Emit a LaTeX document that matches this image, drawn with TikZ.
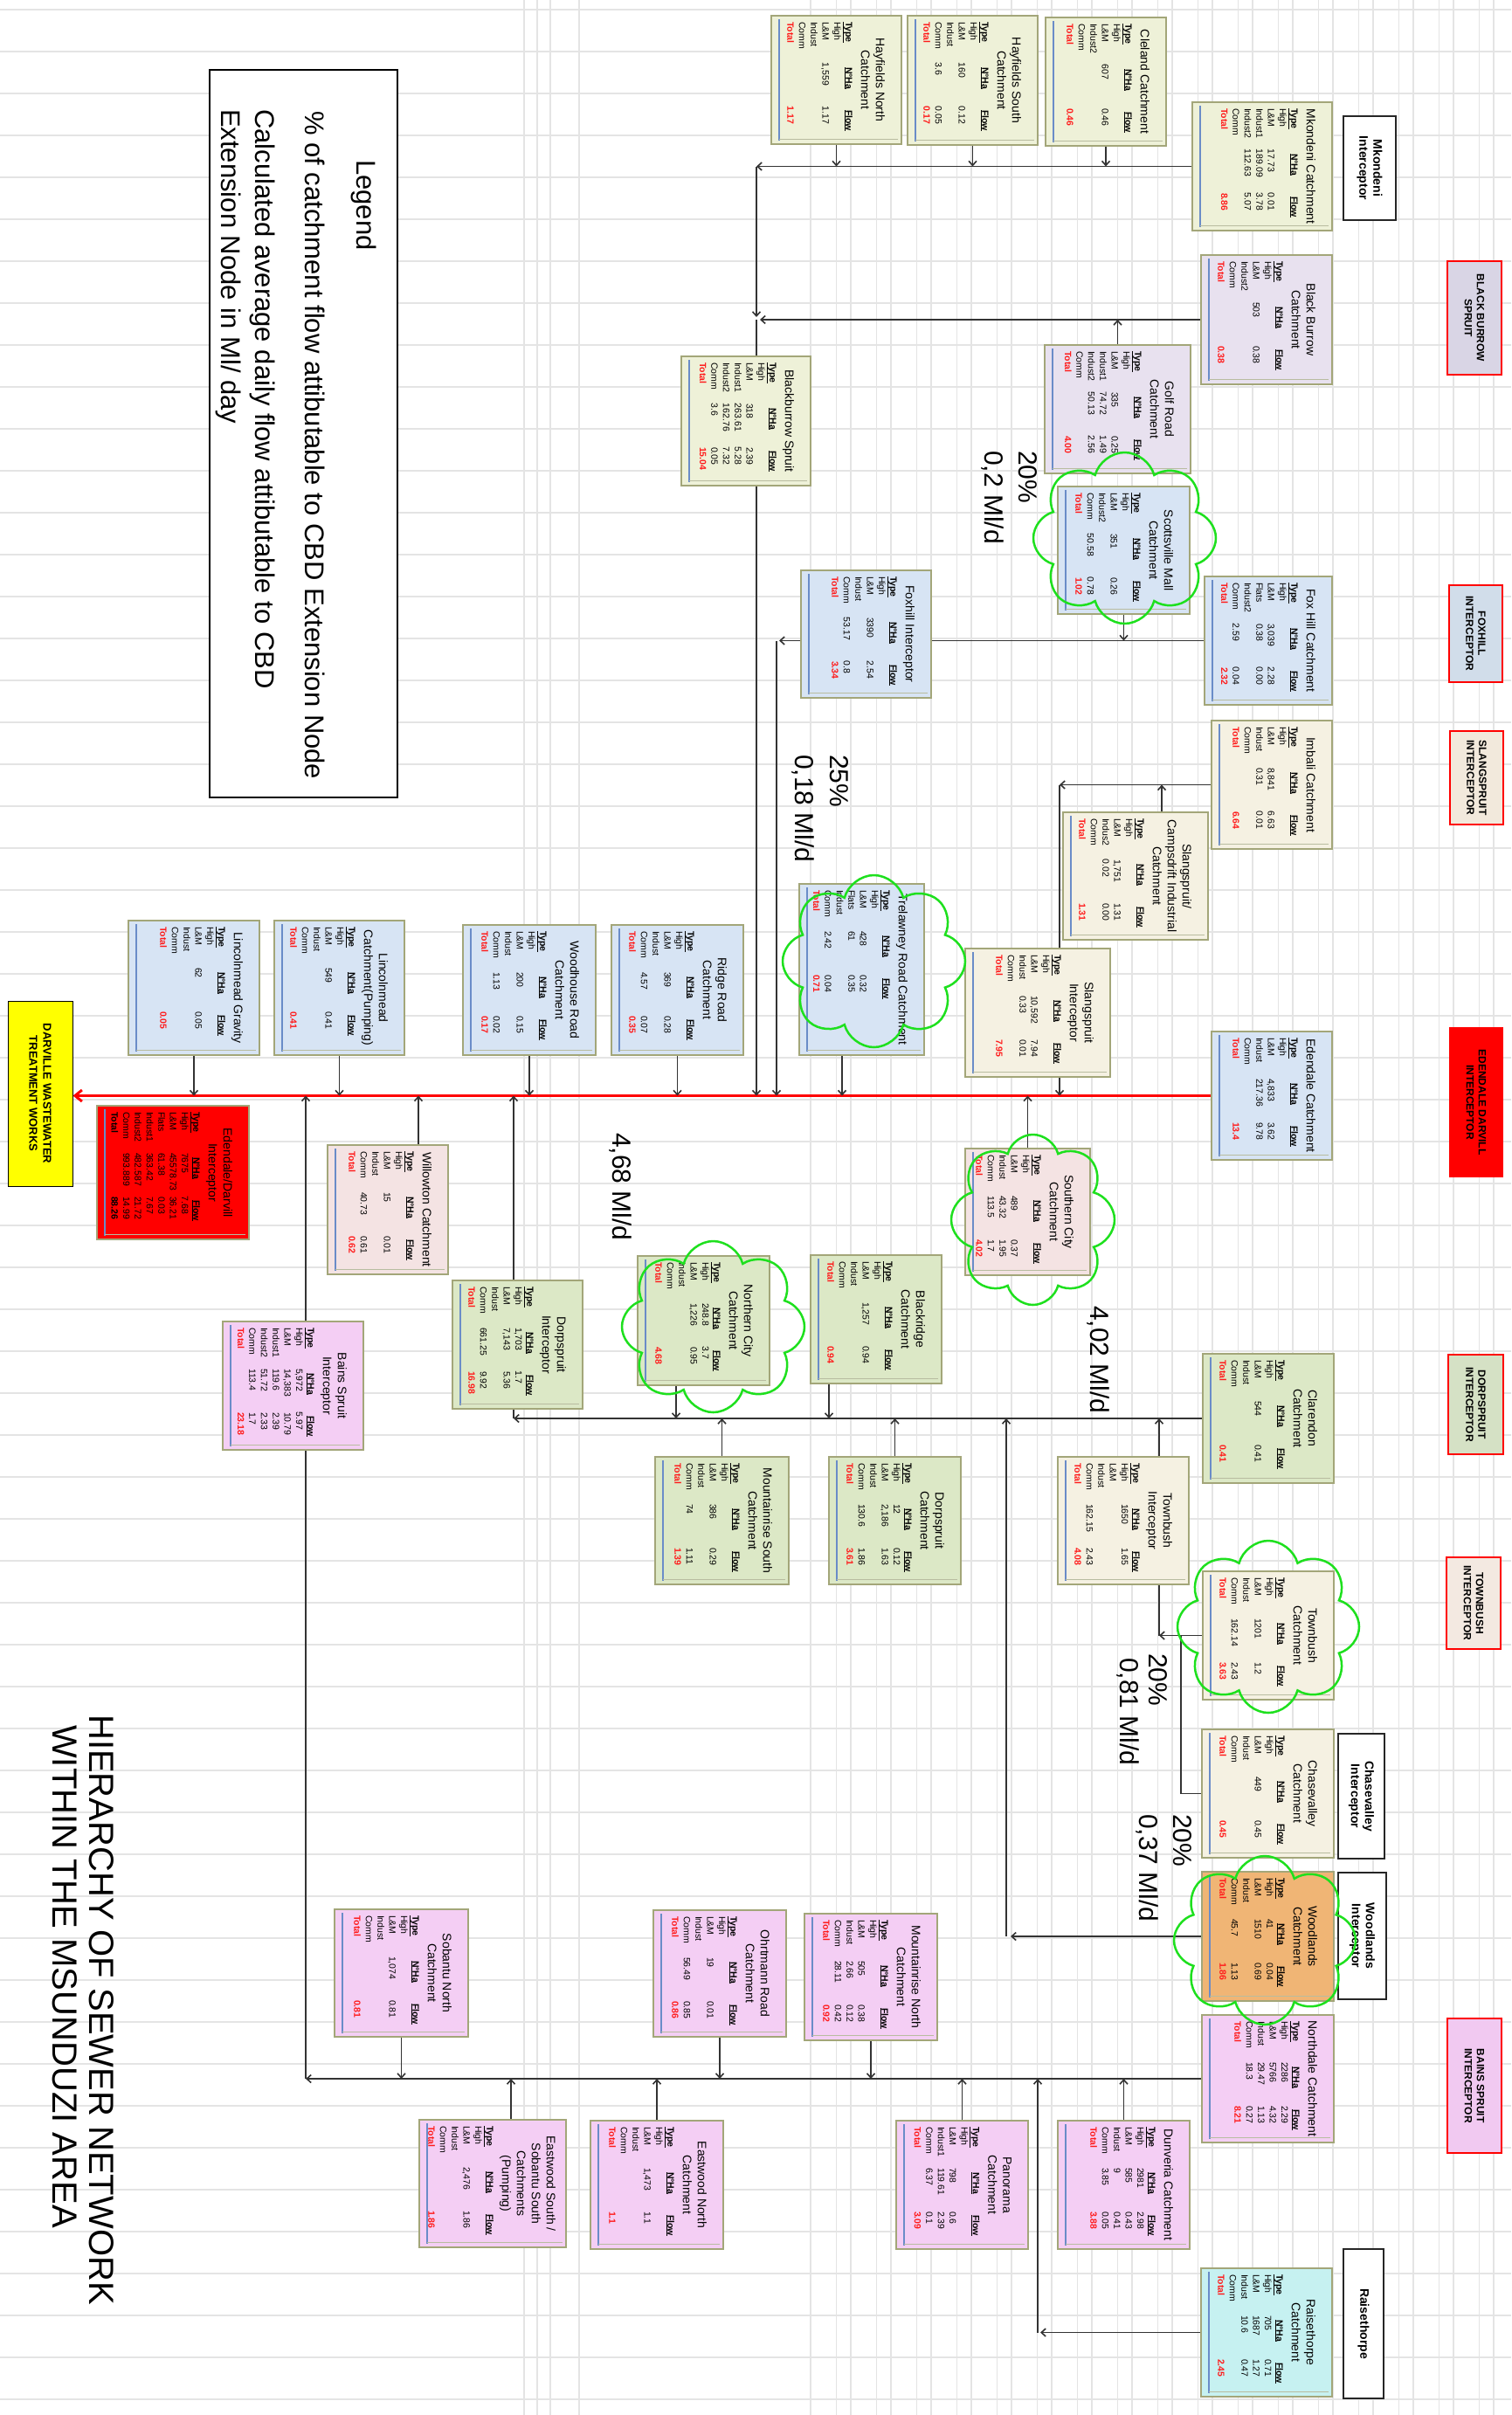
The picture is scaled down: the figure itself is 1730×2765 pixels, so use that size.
\documentclass[tikz,border=0pt]{standalone}
\usepackage{fontspec}
\setmainfont{Liberation Sans}
\usetikzlibrary{arrows.meta,shapes.symbols}
\pgfdeclarelayer{gridlayer}
\pgfdeclarelayer{connlayer}
\pgfsetlayers{gridlayer,connlayer,main}

\definecolor{bord}{HTML}{A3A679}
\definecolor{cyel}{HTML}{EEF1D8}
\definecolor{cgreen}{HTML}{DCE8C6}
\definecolor{clav}{HTML}{E8E1EF}
\definecolor{cblue}{HTML}{D7E4F4}
\definecolor{ccream}{HTML}{F5F1E2}
\definecolor{cpink}{HTML}{F4E3E3}
\definecolor{cmag}{HTML}{F4CEF4}
\definecolor{corange}{HTML}{F0B575}
\definecolor{ccyan}{HTML}{C6F1F1}
\definecolor{cred}{HTML}{FF0000}
\definecolor{totred}{HTML}{FF1A1A}
\definecolor{brule}{HTML}{6A8CC8}
\definecolor{grule}{HTML}{B8BCA0}
\definecolor{cloudg}{HTML}{1EE01E}
\definecolor{lnc}{HTML}{333333}
\definecolor{gridc}{HTML}{E4E4E4}
\definecolor{yelw}{HTML}{FFFF00}
\definecolor{lbb}{HTML}{D9D5E5}
\definecolor{lfx}{HTML}{D1DDEA}
\definecolor{lsl}{HTML}{F2E9DC}
\definecolor{ldp}{HTML}{D5E1C5}
\definecolor{ltb}{HTML}{F3E9E1}
\definecolor{lbs}{HTML}{F1C9F1}

\newcommand\crow[3]{\hspace*{7pt}\makebox[47pt][l]{#1}\makebox[50pt][l]{#2}#3\par}
\newcommand\chdr{\crow{\textbf{\underline{Type}}}{\hspace*{5pt}\textbf{\underline{N°Ha}}}{\hspace*{4pt}\textbf{\underline{Flow}}}}
\newcommand\ctot[1]{\crow{\textcolor{totred}{\textbf{Total}}}{}{\textcolor{totred}{\textbf{#1}}}}
\newcommand\ctotb[1]{\crow{\textbf{Total}}{}{\textbf{#1}}}
\newcommand\catchbox[8]{%
  \node[cbx, fill=#6] (#1) at ({(#2+#4)/2},{(#3+#5)/2})
   {\parbox[c][\dimexpr#4pt-#2pt\relax][t]{\dimexpr#5pt-#3pt\relax}{%
     \vspace*{19pt}%
     {\centering\fontsize{14}{17}\selectfont #7\par}%
     \vspace{4pt}%
     \fontsize{10.5}{13.4}\selectfont\chdr #8}};
  \draw[brule, line width=1.2pt] ({#2+9},{#3+4}) -- ({#2+9},{#5-4});
  \draw[grule, line width=1pt] ({#2+9},{#5-6}) -- ({#4-4},{#5-6});
}
\newcommand\labbox[7]{%
  \node[#6, minimum width={#5pt-#3pt}, minimum height={#4pt-#2pt}] (#1) at ({(#2+#4)/2},{(#3+#5)/2}) {#7};}

\tikzset{
  cbx/.style={draw=bord, line width=1.5pt, rotate=-90, inner sep=0pt, outer sep=0pt},
  redlab/.style={rotate=-90, draw=red, line width=2.5pt, inner sep=1pt, align=center, font=\bfseries\fontsize{12}{14}\selectfont},
  whitelab/.style={rotate=-90, draw=black!85, line width=1.6pt, fill=white, inner sep=1pt, align=center, font=\bfseries\fontsize{14}{16}\selectfont},
  conn/.style={draw=lnc, line width=1.6pt},
  connA/.style={conn, -{Straight Barb[length=5pt,width=9pt]}},
  mainred/.style={draw=red, line width=3pt, -{Straight Barb[length=8pt,width=13pt]}},
  ann/.style={rotate=-90, anchor=base west, inner sep=0pt, font=\fontsize{30}{30}\selectfont},
  legtxt/.style={rotate=-90, anchor=base west, inner sep=0pt, font=\fontsize{31}{31}\selectfont},
  ttl/.style={rotate=-90, anchor=base west, inner sep=0pt, font=\fontsize{40}{40}\selectfont},
  cloudy/.style={cloud, cloud puffs=8, cloud ignores aspect, draw=cloudg, line width=2.5pt, inner sep=0pt},
  gridln/.style={draw=gridc, line width=1.2pt},
}

\begin{document}
\begin{tikzpicture}[x=1pt,y=-1pt]
\useasboundingbox (0,0) rectangle (1730,2765);
\begin{pgfonlayer}{gridlayer}
\fill[white] (0,0) rectangle (1730,2765);
\foreach \k in {0,...,57} \draw[gridln] (0,{11+48*\k}) -- (1730,{11+48*\k});
\foreach \k in {0,...,17} \draw[gridln] ({928+46*\k},0) -- ({928+46*\k},2765);
\foreach \k in {0,...,16} \draw[gridln, line width=0.8pt] ({957+46*\k},0) -- ({957+46*\k},2765);
\foreach \xx in {600,615,630,663} \draw[gridln] (\xx,0) -- (\xx,2765);
\end{pgfonlayer}

% legend and title
\labbox{legend}{240}{80}{455}{913}{rotate=-90, draw=black, line width=1.5pt, fill=white, inner sep=0pt}{}
\node[legtxt] (legT) at (408,183) {Legend};
\node[legtxt] (leg1) at (349,127) {\% of catchment flow attibutable to CBD Extension Node};
\node[legtxt] (leg2) at (292,125) {Calculated average daily flow attibutable to CBD};
\node[legtxt] (leg3) at (253,125) {Extension Node in Ml/ day};
\node[ttl] (title1) at (102,1963) {HIERARCHY OF SEWER NETWORK};
\node[ttl] (title2) at (60,1975) {WITHIN THE MSUNDUZI AREA};

% catchment boxes
\catchbox{hayn}{883}{18}{1032}{165}{cyel}{Hayfields North\\Catchment}{\crow{High}{}{}\crow{L\&M}{1,559}{1.17}\crow{Indust}{}{}\crow{Comm}{}{}\ctot{1.17}}
\catchbox{hays}{1039}{18}{1188}{166}{cyel}{Hayfields South\\Catchment}{\crow{High}{}{}\crow{L\&M}{160}{0.12}\crow{Indust}{}{}\crow{Comm}{3.6}{0.05}\ctot{0.17}}
\catchbox{clel}{1197}{20}{1335}{167}{cyel}{Cleland Catchment}{\crow{High}{}{}\crow{L\&M}{607}{0.46}\crow{Indust2}{}{}\crow{Comm}{}{}\ctot{0.46}}
\catchbox{mkon}{1365}{117}{1525}{264}{cyel}{Mkondeni Catchment}{\crow{High}{}{}\crow{L\&M}{17.73}{0.01}\crow{Indust1}{189.09}{3.78}\crow{Indust2}{112.63}{5.07}\crow{Comm}{}{}\ctot{8.86}}
\catchbox{bbur}{1375}{292}{1525}{440}{clav}{Black Burrow\\Catchment}{\crow{High}{}{}\crow{L\&M}{503}{0.38}\crow{Indust2}{}{}\crow{Comm}{}{}\ctot{0.38}}
\catchbox{golf}{1196}{395}{1363}{542}{clav}{Golf Road\\Catchment}{\crow{High}{}{}\crow{L\&M}{335}{0.25}\crow{Indust1}{74.72}{1.49}\crow{Indust2}{50.13}{2.56}\crow{Comm}{}{}\ctot{4.00}}
\catchbox{bbsp}{780}{408}{928}{556}{cyel}{Blackburrow Spruit}{\crow{High}{}{}\crow{L\&M}{318}{2.39}\crow{Indust1}{263.61}{5.28}\crow{Indust2}{162.76}{7.32}\crow{Comm}{3.6}{0.05}\ctot{15.04}}
\catchbox{scot}{1211}{557}{1362}{703}{cblue}{Scottsville Mall\\Catchment}{\crow{High}{}{}\crow{L\&M}{351}{0.26}\crow{Indust2}{}{}\crow{Comm}{50.58}{0.78}\ctot{1.02}}
\catchbox{foxc}{1379}{660}{1525}{807}{cblue}{Fox Hill Catchment}{\crow{High}{}{}\crow{L\&M}{3,039}{2.28}\crow{Flats}{0.38}{0.00}\crow{Indust2}{}{}\crow{Comm}{2.59}{0.04}\ctot{2.32}}
\catchbox{foxi}{917}{653}{1066}{799}{cblue}{Foxhill Interceptor}{\crow{High}{}{}\crow{L\&M}{3390}{2.54}\crow{Indust}{}{}\crow{Comm}{53.17}{0.8}\ctot{3.34}}
\catchbox{imba}{1387}{825}{1525}{972}{ccream}{Imbali Catchment}{\crow{High}{}{}\crow{L\&M}{8,841}{6.63}\crow{Indust}{0.31}{0.01}\crow{Comm}{}{}\ctot{6.64}}
\catchbox{slcd}{1217}{930}{1383}{1076}{ccream}{Slangspruit/\\Campsdrift Industrial\\Catchment}{\crow{High}{}{}\crow{L\&M}{1,751}{1.31}\crow{Indus2}{0.02}{0.00}\crow{Comm}{}{}\ctot{1.31}}
\catchbox{slin}{1105}{1086}{1271}{1233}{ccream}{Slangspruit\\Interceptor}{\crow{High}{}{}\crow{L\&M}{10,592}{7.94}\crow{Indust}{0.33}{0.01}\crow{Comm}{}{}\ctot{7.95}}
\catchbox{trel}{915}{1012}{1058}{1208}{cblue}{Trelawney Road Catchment}{\crow{High}{}{}\crow{L\&M}{428}{0.32}\crow{Flats}{61}{0.35}\crow{Indust}{}{}\crow{Comm}{2.42}{0.04}\ctot{0.71}}
\catchbox{edc}{1387}{1181}{1525}{1328}{cblue}{Edendale Catchment}{\crow{High}{}{}\crow{L\&M}{4,833}{3.62}\crow{Indust}{217.36}{9.78}\crow{Comm}{}{}\ctot{13.4}}
\catchbox{ridg}{700}{1059}{851}{1208}{cblue}{Ridge Road\\Catchment}{\crow{High}{}{}\crow{L\&M}{369}{0.28}\crow{Indust}{}{}\crow{Comm}{4.57}{0.07}\ctot{0.35}}
\catchbox{wood}{530}{1059}{682}{1208}{cblue}{Woodhouse Road\\Catchment}{\crow{High}{}{}\crow{L\&M}{200}{0.15}\crow{Indust}{}{}\crow{Comm}{1.13}{0.02}\ctot{0.17}}
\catchbox{lmg}{147}{1054}{297}{1208}{cblue}{Lincolnmead Gravity}{\crow{High}{}{}\crow{L\&M}{62}{0.05}\crow{Indust}{}{}\crow{Comm}{}{}\ctot{0.05}}
\catchbox{lmp}{314}{1054}{463}{1208}{cblue}{Lincolnmead\\Catchment(Pumping)}{\crow{High}{}{}\crow{L\&M}{549}{0.41}\crow{Indust}{}{}\crow{Comm}{}{}\ctot{0.41}}
\catchbox{edi}{111}{1266}{285}{1419}{cred}{Edendale/Darvill\\Interceptor}{\crow{High}{7675}{7.68}\crow{L\&M}{45578.73}{36.21}\crow{Flats}{61.38}{0.03}\crow{Indust1}{363.42}{7.67}\crow{Indust2}{482.587}{21.72}\crow{Comm}{993.889}{14.99}\ctotb{88.26}}
\catchbox{will}{375}{1311}{513}{1459}{cpink}{Willowton Catchment}{\crow{High}{}{}\crow{L\&M}{15}{0.01}\crow{Indust}{}{}\crow{Comm}{40.73}{0.61}\ctot{0.62}}
\catchbox{sc}{1105}{1315}{1248}{1460}{cpink}{Southern City\\Catchment}{\crow{High}{}{}\crow{L\&M}{489}{0.37}\crow{Indust}{43.32}{1.95}\crow{Comm}{113.5}{1.7}\ctot{4.02}}
\catchbox{blr}{928}{1437}{1078}{1584}{cgreen}{Blackridge\\Catchment}{\crow{High}{}{}\crow{L\&M}{1,257}{0.94}\crow{Indust}{}{}\crow{Comm}{}{}\ctot{0.94}}
\catchbox{nc}{730}{1438}{881}{1586}{cgreen}{Northern City\\Catchment}{\crow{High}{248.8}{3.7}\crow{L\&M}{1,226}{0.95}\crow{Indust}{}{}\crow{Comm}{}{}\ctot{4.68}}
\catchbox{dpi}{518}{1466}{667}{1613}{cgreen}{Dorpspruit\\Interceptor}{\crow{High}{1,703}{1.7}\crow{L\&M}{7,143}{5.36}\crow{Indust}{}{}\crow{Comm}{661.25}{9.92}\ctot{16.98}}
\catchbox{bsi}{255}{1513}{416}{1660}{cmag}{Bains Spruit\\Interceptor}{\crow{High}{5,972}{5.97}\crow{L\&M}{14,383}{10.79}\crow{Indust1}{119.6}{2.39}\crow{Indust2}{51.72}{2.33}\crow{Comm}{113.4}{1.7}\ctot{23.18}}
\catchbox{clar}{1377}{1550}{1527}{1698}{cgreen}{Clarendon\\Catchment}{\crow{High}{}{}\crow{L\&M}{544}{0.41}\crow{Indust}{}{}\crow{Comm}{}{}\ctot{0.41}}
\catchbox{dpc}{949}{1668}{1100}{1814}{cgreen}{Dorpspruit\\Catchment}{\crow{High}{12}{0.12}\crow{L\&M}{2,186}{1.63}\crow{Indust}{}{}\crow{Comm}{130.6}{1.86}\ctot{3.61}}
\catchbox{mrs}{750}{1668}{903}{1814}{cgreen}{Mountainrise South\\Catchment}{\crow{High}{}{}\crow{L\&M}{386}{0.29}\crow{Indust}{}{}\crow{Comm}{74}{1.11}\ctot{1.39}}
\catchbox{tbi}{1211}{1668}{1361}{1814}{ccream}{Townbush\\Interceptor}{\crow{High}{1650}{1.65}\crow{L\&M}{}{}\crow{Indust}{}{}\crow{Comm}{162.15}{2.43}\ctot{4.08}}
\catchbox{tbc}{1377}{1799}{1527}{1946}{ccream}{Townbush\\Catchment}{\crow{High}{}{}\crow{L\&M}{1201}{1.2}\crow{Indust}{}{}\crow{Comm}{162.14}{2.43}\ctot{3.63}}
\catchbox{chc}{1376}{1980}{1527}{2127}{ccream}{Chasevalley\\Catchment}{\crow{High}{}{}\crow{L\&M}{449}{0.45}\crow{Indust}{}{}\crow{Comm}{}{}\ctot{0.45}}
\catchbox{wdc}{1376}{2143}{1527}{2291}{corange}{Woodlands\\Catchment}{\crow{High}{41}{0.04}\crow{L\&M}{1510}{0.69}\crow{Indust}{}{}\crow{Comm}{45.7}{1.13}\ctot{1.86}}
\catchbox{ndc}{1376}{2307}{1527}{2453}{cmag}{Northdale Catchment}{\crow{High}{2286}{2.29}\crow{L\&M}{5766}{4.32}\crow{Indust}{29.47}{1.13}\crow{Comm}{18.3}{0.27}\ctot{8.21}}
\catchbox{dun}{1211}{2428}{1362}{2575}{cmag}{Dunveria Catchment}{\crow{High}{2981}{2.98}\crow{L\&M}{585}{0.43}\crow{Indust}{9}{0.41}\crow{Comm}{3.85}{0.05}\ctot{3.88}}
\catchbox{rai}{1375}{2597}{1525}{2744}{ccyan}{Raisethorpe\\Catchment}{\crow{High}{705}{0.71}\crow{L\&M}{1687}{1.27}\crow{Indust}{10.6}{0.47}\crow{Comm}{}{}\ctot{2.45}}
\catchbox{mrn}{921}{2191}{1073}{2336}{cmag}{Mountainrise North\\Catchment}{\crow{High}{}{}\crow{L\&M}{505}{0.38}\crow{Indust}{2.66}{0.12}\crow{Comm}{28.11}{0.42}\ctot{0.92}}
\catchbox{ohr}{748}{2187}{900}{2332}{cmag}{Ohrtmann Road\\Catchment}{\crow{High}{}{}\crow{L\&M}{19}{0.01}\crow{Indust}{}{}\crow{Comm}{56.49}{0.85}\ctot{0.86}}
\catchbox{pan}{1026}{2428}{1177}{2575}{cmag}{Panorama\\Catchment}{\crow{High}{}{}\crow{L\&M}{798}{0.6}\crow{Indust1}{119.61}{2.39}\crow{Comm}{6.37}{0.1}\ctot{3.09}}
\catchbox{ewn}{676}{2428}{828}{2575}{cmag}{Eastwood North\\Catchment}{\crow{High}{}{}\crow{L\&M}{1,473}{1.1}\crow{Indust}{}{}\crow{Comm}{}{}\ctot{1.1}}
\catchbox{ews}{480}{2427}{648}{2573}{cmag}{\vspace*{-7pt}Eastwood South /\\Sobantu South\\Catchments\\(Pumping)}{\crow{High}{}{}\crow{L\&M}{2,476}{1.86}\crow{Indust}{}{}\crow{Comm}{}{}\ctot{1.86}}
\catchbox{sbn}{383}{2186}{536}{2332}{cmag}{Sobantu North\\Catchment}{\crow{High}{}{}\crow{L\&M}{1,074}{0.81}\crow{Indust}{}{}\crow{Comm}{}{}\ctot{0.81}}

% interceptor labels
\labbox{bbsl}{1657}{299}{1719}{429}{redlab, fill=lbb}{BLACK BURROW\\SPRUIT}
\labbox{fxl}{1659}{670}{1720}{781}{redlab, fill=lfx}{FOXHILL\\INTERCEPTOR}
\labbox{sll}{1660}{837}{1721}{944}{redlab, fill=lsl}{SLANGSPRUIT\\INTERCEPTOR}
\labbox{edl}{1660}{1177}{1720}{1347}{redlab, fill=red}{EDENDALE DARVILL\\INTERCEPTOR}
\labbox{dpl}{1658}{1551}{1721}{1665}{redlab, fill=ldp}{DORPSPRUIT\\INTERCEPTOR}
\labbox{tbl}{1656}{1783}{1718}{1888}{redlab, fill=ltb}{TOWNBUSH\\INTERCEPTOR}
\labbox{bsl}{1657}{2311}{1719}{2465}{redlab, fill=lbs}{BAINS SPRUIT\\INTERCEPTOR}
\labbox{mki}{1538}{133}{1598}{252}{whitelab}{Mkondeni\\Interceptor}
\labbox{cvi}{1532}{1985}{1585}{2128}{whitelab}{Chasevalley\\Interceptor}
\labbox{wdi}{1532}{2144}{1587}{2289}{whitelab}{Woodlands\\Interceptor}
\labbox{rti}{1538}{2575}{1584}{2746}{whitelab}{Raisethorpe}
\labbox{twwk}{9}{1146}{83}{1358}{rotate=-90, draw=black, line width=1pt, fill=yelw, align=center, font=\bfseries\fontsize{13}{16}\selectfont}{DARVILLE WASTEWATER\\TREATMENT WORKS}

% annotations
\node[ann] (a1) at (1166,516) {20\%};
\node[ann] (a2) at (1127,516) {0,2 Ml/d};
\node[ann] (a3) at (950,864) {25\%};
\node[ann] (a4) at (910,864) {0,18 Ml/d};
\node[ann] (a5) at (701,1297) {4,68 Ml/d};
\node[ann] (a6) at (1248,1495) {4,02 Ml/d};
\node[ann] (a7) at (1315,1893) {20\%};
\node[ann] (a8) at (1282,1898) {0,81 Ml/d};
\node[ann] (a9) at (1343,2077) {20\%};
\node[ann] (a10) at (1304,2077) {0,37 Ml/d};

% clouds
\node[cloudy, minimum width=209pt, minimum height=196pt] (cl1) at (1287.5,616) {};
\node[cloudy, minimum width=209pt, minimum height=197pt] (cl2) at (1000.5,1100.5) {};
\node[cloudy, minimum width=187pt, minimum height=195pt] (cl3) at (1182.5,1396.5) {};
\node[cloudy, minimum width=209pt, minimum height=196pt] (cl4) at (816.5,1519) {};
\node[cloudy, minimum width=208pt, minimum height=197pt] (cl5) at (1452,1862.5) {};
\node[cloudy, minimum width=208pt, minimum height=193pt] (cl6) at (1448,2221.5) {};

% connector coordinates
\coordinate (rl) at (edc.south);
\coordinate (xT) at (866,0);
\coordinate (xF) at (889,0);
\coordinate (xS) at (1213,0);
\coordinate (xS2) at (1330,0);
\coordinate (xTr) at (964,0);
\coordinate (xWi) at (479,0);
\coordinate (xD) at (588,0);
\coordinate (xNc) at (774,0);
\coordinate (xBl) at (949,0);
\coordinate (xTb) at (1327,0);
\coordinate (xCv) at (1352,0);
\coordinate (xW) at (1152,0);
\coordinate (xB) at (350,0);
\coordinate (xEs) at (585,0);
\coordinate (xR) at (1188,0);

\begin{pgfonlayer}{connlayer}
\draw[mainred] (edc.south) -- (edc.south -| twwk.north);
% Mkondeni / Blackburrow
\draw[connA] (mkon.south) -- (mkon.south -| xT);
\draw[connA] (hayn.east) -- (hayn.east |- mkon.south);
\draw[connA] (hays.east) -- (hays.east |- mkon.south);
\draw[connA] (clel.east) -- (clel.east |- mkon.south);
\draw[connA, shorten >=3pt] (mkon.south -| xT) -- (bbur.south -| xT);
\draw[connA, shorten >=4pt] (bbur.south) -- (bbur.south -| xT);
\draw[connA] (golf.west) -- (golf.west |- bbur.south);
\draw[conn] (bbur.south -| xT) -- (bbsp.west -| xT);
\draw[connA] (bbsp.east -| xT) -- (xT |- rl);
% Foxhill
\draw[conn] (foxc.south) -- (foxc.south -| foxi.north);
\draw[connA] (scot.east) -- (scot.east |- foxc.south);
\draw[connA, shorten >=3pt] (foxc.south -| foxi.south) -- (foxc.south -| xF);
\draw[connA] (foxc.south -| xF) -- (xF |- rl);
% Slangspruit
\draw[connA] (imba.south) -- (imba.south -| xS);
\draw[connA] (slcd.west -| xS2) -- (xS2 |- imba.south);
\draw[conn] (imba.south -| xS) -- (slin.west -| xS);
\draw[connA] (slin.east -| xS) -- (xS |- rl);
% direct to Edendale/Darvill
\draw[connA] (trel.east -| xTr) -- (xTr |- rl);
\draw[connA] (ridg.east) -- (ridg.east |- rl);
\draw[connA] (wood.east) -- (wood.east |- rl);
\draw[connA] (lmg.east) -- (lmg.east |- rl);
\draw[connA] (lmp.east) -- (lmp.east |- rl);
\draw[connA] (sc.west) -- (sc.west |- rl);
\draw[connA] (will.west -| xWi) -- (xWi |- rl);
% Dorpspruit
\draw[connA] (clar.south) -- (clar.south -| xD);
\draw[connA] (clar.south -| xD) -- (xD |- rl);
\draw[connA] (nc.east -| xNc) -- (xNc |- clar.south);
\draw[connA] (blr.east -| xBl) -- (xBl |- clar.south);
\draw[connA] (mrs.west) -- (mrs.west |- clar.south);
\draw[connA] (dpc.west) -- (dpc.west |- clar.south);
\draw[connA] (tbi.west -| xTb) -- (xTb |- clar.south);
\draw[conn] (tbi.east -| xTb) -- (xTb |- tbc.south);
\draw[connA] (tbc.south) -- (tbc.south -| xTb);
\draw[conn] (chc.south) -- (chc.south -| xCv) -- (xCv |- tbc.south);
\draw[connA, shorten >=5pt] (wdc.south) -- (wdc.south -| xW);
\draw[connA] (wdc.south -| xW) -- (xW |- clar.south);
% Bains Spruit
\draw[connA] (ndc.south) -- (ndc.south -| xB);
\draw[connA] (ndc.south -| xB) -- (xB |- rl);
\draw[connA] (sbn.east) -- (sbn.east |- ndc.south);
\draw[connA] (ohr.east) -- (ohr.east |- ndc.south);
\draw[connA] (mrn.east) -- (mrn.east |- ndc.south);
\draw[connA] (ews.west -| xEs) -- (xEs |- ndc.south);
\draw[connA] (ewn.west) -- (ewn.west |- ndc.south);
\draw[connA] (pan.west) -- (pan.west |- ndc.south);
\draw[connA] (dun.west) -- (dun.west |- ndc.south);
\draw[connA, shorten >=3pt] (rai.south) -- (rai.south -| xR);
\draw[connA] (rai.south -| xR) -- (xR |- ndc.south);
\end{pgfonlayer}
\end{tikzpicture}
\end{document}
